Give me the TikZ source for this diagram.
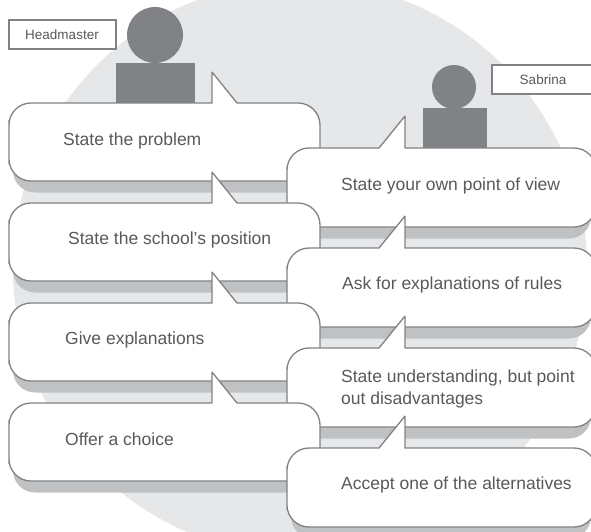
\documentclass[tikz,border=0pt]{standalone}
\usepackage{fontspec}
\setmainfont{Liberation Sans}
\definecolor{discgrey}{HTML}{E6E7E8}
\definecolor{edgegrey}{HTML}{808285}
\definecolor{shadowgrey}{HTML}{BFC1C3}
\definecolor{textgrey}{HTML}{58595B}
\tikzset{
	person/.style={fill=edgegrey},
	bubble/.style={draw=edgegrey,fill=white,line width=1.3pt,miter limit=2},
	bubbleshadow/.style={fill=shadowgrey,rounded corners=22pt},
	saying/.style={anchor=west,inner sep=0pt,align=left,text=textgrey,font=\fontsize{17.5}{22}\selectfont},
	namebox/.style={draw=edgegrey,fill=white,line width=1.3pt},
	namelabel/.style={inner sep=0pt,text=textgrey,font=\fontsize{13.5}{16}\selectfont}
}
\begin{document}
\begin{tikzpicture}[x=1pt,y=-1pt]
	\clip (0,0) rectangle (591,531);
	\def\leftbubble{(9,142) [rounded corners=22pt] -- (9,103) -- (100,103) [sharp corners] -- (212,103) -- (212,72) -- (237,103) -- (260,103) [rounded corners=22pt] -- (320,103) -- (320,181) -- (9,181) -- cycle}
	\def\rightbubble{(287,188) [rounded corners=22pt] -- (287,148) -- (340,148) [sharp corners] -- (379,148) -- (405,116) -- (405,148) -- (450,148) [rounded corners=22pt] -- (596,148) -- (596,227) -- (287,227) -- cycle}
	\def\leftshadow{(13,130) rectangle (316,192.5)}
	\def\rightshadow{(291,175) rectangle (591,238.5)}
	\fill[discgrey] (300,268) circle (287);
	% people
	\fill[person] (155,35) circle (28);
	\fill[person] (116,63) rectangle (195,103);
	\fill[person] (454,87) circle (22);
	\fill[person] (423,108) rectangle (487,148);
	\draw[namebox] (9,20) rectangle (116,49);
	\node[namelabel] (headmaster) at (62,35) {Headmaster};
	\draw[namebox] (492,65) rectangle (597,94);
	\node[namelabel] (sabrina) at (543,80) {Sabrina};
	% bubbles, top to bottom
	\fill[bubbleshadow] \leftshadow;
	\draw[bubble] \leftbubble;
	\fill[bubbleshadow] \rightshadow;
	\draw[bubble] \rightbubble;
	\fill[bubbleshadow,shift={(0,100)}] \leftshadow;
	\draw[bubble,shift={(0,100)}] \leftbubble;
	\fill[bubbleshadow,shift={(0,100)}] \rightshadow;
	\draw[bubble,shift={(0,100)}] \rightbubble;
	\fill[bubbleshadow,shift={(0,200)}] \leftshadow;
	\draw[bubble,shift={(0,200)}] \leftbubble;
	\fill[bubbleshadow,shift={(0,200)}] \rightshadow;
	\draw[bubble,shift={(0,200)}] \rightbubble;
	\fill[bubbleshadow,shift={(0,300)}] \leftshadow;
	\draw[bubble,shift={(0,300)}] \leftbubble;
	\fill[bubbleshadow,shift={(0,300)}] \rightshadow;
	\draw[bubble,shift={(0,300)}] \rightbubble;
	% texts
	\node[saying] (problem) at (63,141) {State the problem};
	\node[saying] (position) at (68,240) {State the school's position};
	\node[saying] (explain) at (65,340) {Give explanations};
	\node[saying] (choice) at (65,439) {Offer a choice};
	\node[saying] (view) at (341,186) {State your own point of view};
	\node[saying] (rules) at (342,285) {Ask for explanations of rules};
	\node[saying] (understand) at (341,389) {State understanding, but point\\out disadvantages};
	\node[saying] (accept) at (341,485) {Accept one of the alternatives};
\end{tikzpicture}
\end{document}
